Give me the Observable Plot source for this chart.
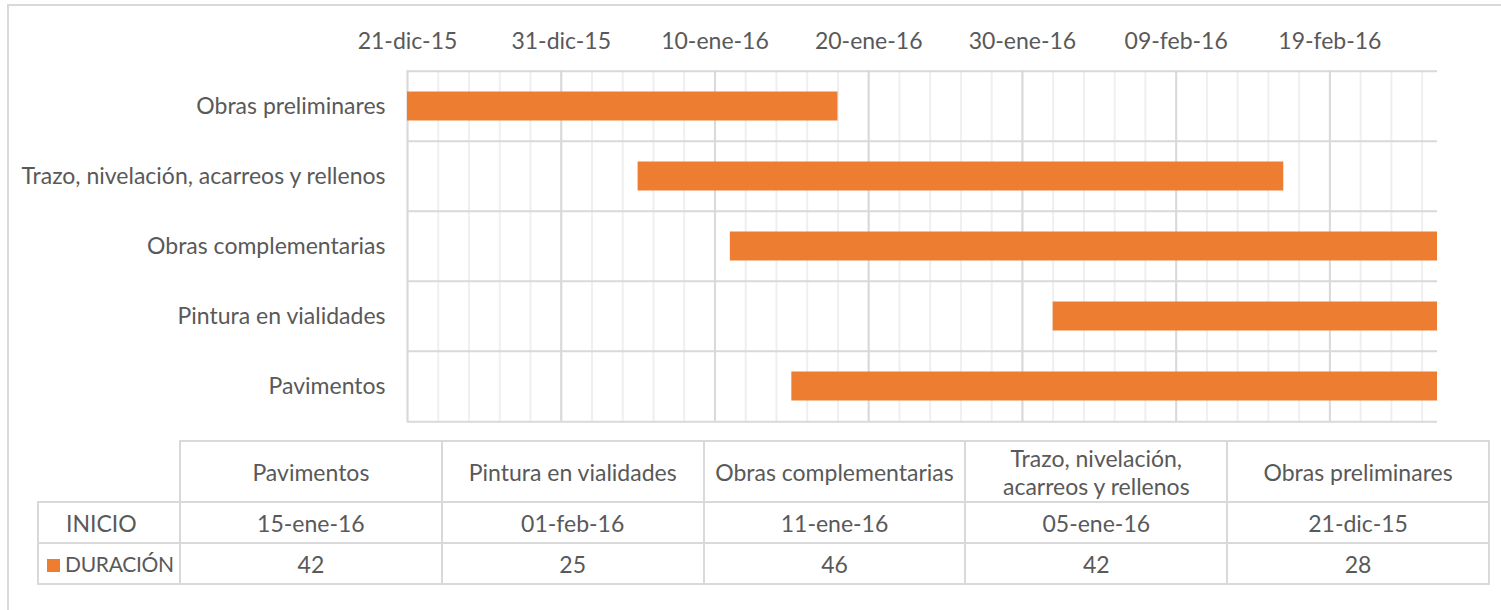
<!DOCTYPE html>
<html>
<head>
<meta charset="utf-8">
<script src="https://cdn.jsdelivr.net/npm/d3@7"></script>
<script src="https://cdn.jsdelivr.net/npm/@observablehq/plot@0.6"></script>
<style>
  html, body { margin: 0; padding: 0; background: #fff; overflow: hidden; }
  body { width: 1501px; height: 610px; position: relative; font-family: Lato, sans-serif; color: #595959; }
  #frame { position: absolute; left: 7px; top: 4px; width: 1600px; height: 700px;
           border-left: 2px solid #d9d9d9; border-top: 2px solid #d9d9d9; }
  #chart { position: absolute; left: 0; top: 0; }
  #tbl { position: absolute; left: 37px; top: 440px; width: 1451px; border-collapse: collapse; table-layout: fixed;
         font-family: Lato, sans-serif; font-size: 23px; color: #595959; }
  #tbl td { border: 2px solid #d9d9d9; text-align: center; padding: 0 8px; box-sizing: border-box; }
  #tbl td.corner { border-top: none; border-left: none; }
  #tbl tr.hdr td { height: 61px; line-height: 28px; }
  #tbl tr.r1 td { height: 41px; }
  #tbl tr.r2 td { height: 41px; }
  #tbl td.lab { text-align: left; white-space: nowrap; padding-right: 0; }
  #tbl tr.r1 td.lab { padding-left: 27px; }
  #tbl tr.r2 td.lab { padding-left: 8px; font-size: 21px; letter-spacing: -0.3px; }
  .sw { display: inline-block; width: 13px; height: 13px; margin-right: 5px; vertical-align: 0px; }
</style>
</head>
<body>
<div id="frame"></div>
<div id="chart"></div>
<table id="tbl"></table>
<script>
// ---- data ----
const categories = ["Pavimentos", "Pintura en vialidades", "Obras complementarias",
                    "Trazo, nivelación, acarreos y rellenos", "Obras preliminares"];
const inicio = ["2016-01-15", "2016-02-01", "2016-01-11", "2016-01-05", "2015-12-21"];
const inicioLabels = ["15-ene-16", "01-feb-16", "11-ene-16", "05-ene-16", "21-dic-15"];
const duracion = [42, 25, 46, 42, 28];
const tickDates = ["2015-12-21", "2015-12-31", "2016-01-10", "2016-01-20",
                   "2016-01-30", "2016-02-09", "2016-02-19"];
const tickLabels = ["21-dic-15", "31-dic-15", "10-ene-16", "20-ene-16",
                    "30-ene-16", "09-feb-16", "19-feb-16"];
const rowLabel = "INICIO";
const seriesName = "DURACIÓN";
const barColor = "#ED7D31";

// ---- derived table ----
const rows = categories.map((name, i) => {
  const start = new Date(inicio[i] + "T00:00:00Z");
  return {name, start, end: d3.utcDay.offset(start, duracion[i]), dur: duracion[i]};
});
const x0 = d3.min(rows, d => d.start);
const x1 = d3.max(rows, d => d.end);
const ticks = tickDates.map(d => new Date(d + "T00:00:00Z"));
const labelOf = new Map(ticks.map((d, i) => [+d, tickLabels[i]]));
const minor = d3.utcDay.range(x0, x1, 2);
const yDomain = categories.slice().reverse();

const W = 1501, H = 430, mT = 70, mB = 8, mL = 407, mR = 64;
const step = (H - mT - mB) / yDomain.length;

const chart = Plot.plot({
  width: W, height: H,
  marginTop: mT, marginBottom: mB, marginLeft: mL, marginRight: mR,
  style: {fontFamily: "Lato, sans-serif", fontSize: "23px", color: "#595959", background: "transparent"},
  x: {type: "utc", domain: [x0, x1], axis: "top", ticks: ticks, tickFormat: d => labelOf.get(+d),
      tickSize: 0, tickPadding: 22, label: null},
  y: {domain: yDomain, padding: 0, tickSize: 0, tickPadding: 22, label: null},
  marks: [
    Plot.ruleX(minor, {x: d => d, stroke: "#efefef", strokeWidth: 2}),
    Plot.ruleX(ticks, {x: d => d, stroke: "#d9d9d9", strokeWidth: 2}),
    Plot.ruleY(yDomain, {y: d => d, dy: -step / 2, stroke: "#d9d9d9", strokeWidth: 2}),
    Plot.ruleY(yDomain.slice(-1), {y: d => d, dy: step / 2, stroke: "#d9d9d9", strokeWidth: 2}),
    Plot.barX(rows, {x1: "start", x2: "end", y: "name", fill: barColor,
                     insetTop: 20.5, insetBottom: 20.5})
  ]
});
document.getElementById("chart").appendChild(chart);

// ---- data table below the chart ----
const tbl = d3.select("#tbl");
const cg = tbl.append("colgroup");
cg.append("col").style("width", "142px");
categories.forEach(() => cg.append("col").style("width", "261.8px"));
const hr = tbl.append("tr").attr("class", "hdr");
hr.append("td").attr("class", "corner");
categories.forEach(c => hr.append("td").text(c));
const r1 = tbl.append("tr").attr("class", "r1");
r1.append("td").attr("class", "lab").text(rowLabel);
inicioLabels.forEach(v => r1.append("td").text(v));
const r2 = tbl.append("tr").attr("class", "r2");
const lab = r2.append("td").attr("class", "lab");
lab.append("span").attr("class", "sw").style("background", barColor);
lab.append("span").text(seriesName);
duracion.forEach(v => r2.append("td").text(v));
</script>
</body>
</html>
